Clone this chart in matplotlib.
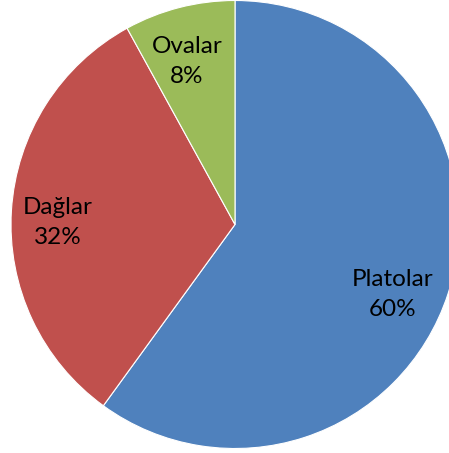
import matplotlib
matplotlib.use("Agg")
import matplotlib.pyplot as plt
import numpy as np

categories = ["Platolar", "Dağlar", "Ovalar"]
values = [60, 32, 8]
colors = ["#4F81BD", "#C0504D", "#9BBB59"]

W, H = 449, 453
fig = plt.figure(figsize=(W / 100, H / 100), dpi=100)
ax = fig.add_axes([0, 0, 1, 1])

cx, cy, r = 235, H - 224.5, 224
labels = [f"{c}\n{v}%" for c, v in zip(categories, values)]
wedges, texts = ax.pie(values, colors=colors, startangle=90, counterclock=False,
                       center=(cx, cy), radius=r, labels=labels, labeldistance=0.77,
                       wedgeprops=dict(edgecolor="white", linewidth=0.8),
                       textprops=dict(fontsize=17.5, family=["Lato", "DejaVu Sans"],
                                      color="black", linespacing=1.55),
                       frame=True)
# best-fit label placement (Excel style)
angle_shift = [-6, 3, 2]
dist = [0.77, 0.79, 0.76]
for w, t, da, d in zip(wedges, texts, angle_shift, dist):
    mid = np.deg2rad((w.theta1 + w.theta2) / 2 + da)
    t.set_position((cx + d * r * np.cos(mid), cy + d * r * np.sin(mid)))
    t.set_ha("center")
    t.set_va("center")
ax.set_xlim(0, W)
ax.set_ylim(0, H)
ax.set_aspect("equal")
ax.axis("off")
fig.savefig("out.png", dpi=100)
